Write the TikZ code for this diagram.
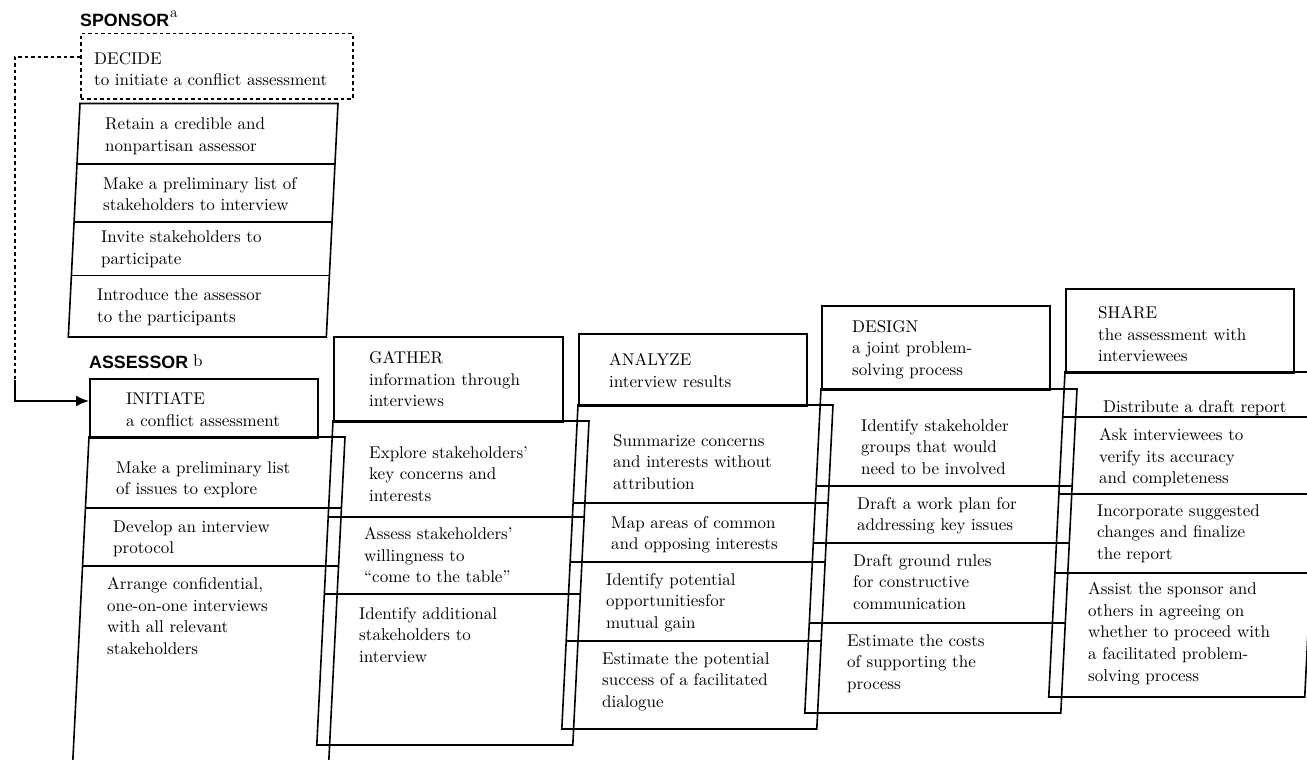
\documentclass[tikz,border=0pt]{standalone}
\usepackage{fontspec}
\setmainfont{lmroman10-regular.otf}
\newfontfamily\labfont{Liberation Sans}
\usetikzlibrary{arrows.meta}
\newcommand\PBody[4]{% x0, y0, width, height
  \draw[edge] (#1,#2) -- ({#1+#3},#2) -- ({#1+#3-0.05*#4},{#2+#4}) -- ({#1-0.05*#4},{#2+#4}) -- cycle;}
\newcommand\PDiv[4]{% x0, y0, width, y
  \draw[edge] ({#1-0.05*(#4-#2)},#4) -- ({#1+#3-0.05*(#4-#2)},#4);}
\begin{document}
\begin{tikzpicture}[x=1pt,y=-1pt,
  edge/.style={line width=1.6pt, line join=miter},
  hdr/.style={draw, line width=1.6pt, anchor=north west, inner sep=0pt},
  txt/.style={anchor=north west, inner sep=0pt, align=left,
    font=\fontsize{17}{21.8}\selectfont, execute at begin node=\strut},
  lab/.style={anchor=base west, inner sep=0pt,
    font=\labfont\bfseries\fontsize{17.8}{20}\selectfont},
  dsh/.style={line width=1.5pt, dash pattern=on 3.5pt off 3pt},
]
\useasboundingbox (0,0) rectangle (1307,760);
\clip (0,0) rectangle (1307,760);

% ---------------- SPONSOR ----------------
\node[lab] (sponsorL) at (80,27) {SPONSOR};
\node[anchor=base west, inner sep=0pt, font=\fontsize{15}{18}\selectfont] (supA) at (170,18) {a};
\node[hdr, dsh, minimum width=272pt, minimum height=65pt] (decide) at (80,33) {};
\node[txt] (decideT) at (94,52) {DECIDE\\to initiate a conflict assessment};

\PBody{80}{103.5}{258}{233.5}
\draw[edge] ({80-0.0515*(164-103.5)},164) -- ({338-0.0515*(164-103.5)},164);
\draw[edge] ({80-0.0515*(222-103.5)},222) -- ({338-0.0515*(222-103.5)},222);
\draw[edge] ({80-0.0515*(275.5-103.5)},275.5) -- ({338-0.0515*(275.5-103.5)},275.5);
\node[txt] (s1) at (105,118) {Retain a credible and\\nonpartisan assessor};
\node[txt] (s2) at (103,177) {Make a preliminary list of\\stakeholders to interview};
\node[txt] (s3) at (101,231) {Invite stakeholders to\\participate};
\node[txt] (s4) at (97,289) {Introduce the assessor\\to the participants};

% ---------------- ASSESSOR ----------------
\node[lab] (assessorL) at (89,368) {ASSESSOR};
\node[anchor=base west, inner sep=0pt, font=\fontsize{17}{20}\selectfont] (supB) at (193,366) {b};
\node[hdr, minimum width=228pt, minimum height=59pt] (initH) at (89,378) {};
\node[txt] (initT) at (126,392) {INITIATE\\a conflict assessment};
\PBody{89}{437}{256}{326}
\PDiv{89}{437}{256}{508}
\PDiv{89}{437}{256}{566}
\node[txt] (a1) at (116,461) {Make a preliminary list\\of issues to explore};
\node[txt] (a2) at (113,520) {Develop an interview\\protocol};
\node[txt] (a3) at (107,577) {Arrange confidential,\\one-on-one interviews\\with all relevant\\stakeholders};

% ---------------- GATHER ----------------
\node[hdr, minimum width=229pt, minimum height=85pt] (gatherH) at (333,336) {};
\node[txt] (gatherT) at (369,351) {GATHER\\information through\\interviews};
\PBody{333}{421}{256}{324}
\PDiv{333}{421}{256}{517}
\PDiv{333}{421}{256}{594}
\node[txt] (g1) at (369,446) {Explore stakeholders’\\key concerns and\\interests};
\node[txt] (g2) at (364,527) {Assess stakeholders’\\willingness to\\“come to the table”};
\node[txt] (g3) at (359,607) {Identify additional\\stakeholders to\\interview};

% ---------------- ANALYZE ----------------
\node[hdr, minimum width=228pt, minimum height=72pt] (analyzeH) at (578,333) {};
\node[txt] (analyzeT) at (609,353) {ANALYZE\\interview results};
\PBody{578}{405}{255}{324}
\PDiv{578}{405}{255}{503}
\PDiv{578}{405}{255}{562}
\PDiv{578}{405}{255}{641}
\node[txt] (n1) at (613,434) {Summarize concerns\\and interests without\\attribution};
\node[txt] (n2) at (611,516) {Map areas of common\\and opposing interests};
\node[txt] (n3) at (606,573) {Identify potential\\opportunitiesfor\\mutual gain};
\node[txt] (n4) at (602,652) {Estimate the potential\\success of a facilitated\\dialogue};

% ---------------- DESIGN ----------------
\node[hdr, minimum width=228pt, minimum height=84pt] (designH) at (821,305) {};
\node[txt] (designT) at (852,320) {DESIGN\\a joint problem-\\solving process};
\PBody{821}{389}{256}{324}
\PDiv{821}{389}{256}{486}
\PDiv{821}{389}{256}{543}
\PDiv{821}{389}{256}{623}
\node[txt] (d1) at (861,419) {Identify stakeholder\\groups that would\\need to be involved};
\node[txt] (d2) at (857,497) {Draft a work plan for\\addressing key issues};
\node[txt] (d3) at (853,554) {Draft ground rules\\for constructive\\communication};
\node[txt] (d4) at (847,634) {Estimate the costs\\of supporting the\\process};

% ---------------- SHARE ----------------
\node[hdr, minimum width=228pt, minimum height=84pt] (shareH) at (1065,288) {};
\node[txt] (shareT) at (1098,306) {SHARE\\the assessment with\\interviewees};
\PBody{1065}{372}{256}{325}
\PDiv{1065}{372}{256}{417}
\PDiv{1065}{372}{256}{494}
\PDiv{1065}{372}{256}{573}
\node[txt] (h1) at (1103,397) {Distribute a draft report};
\node[txt] (h2) at (1099,428) {Ask interviewees to\\verify its accuracy\\and completeness};
\node[txt] (h3) at (1097,504) {Incorporate suggested\\changes and finalize\\the report};
\node[txt] (h4) at (1088,582) {Assist the sponsor and\\others in agreeing on\\whether to proceed with\\a facilitated problem-\\solving process};

% ---------------- connector ----------------
\coordinate (c1) at (15,57);
\coordinate (c2) at (15,380);
\coordinate (c3) at (15,401);
\draw[dsh] (decide.west |- c1) -- (c1) -- (c2);
\draw[edge, -{Latex[length=13pt,width=11pt]}] (c2) -- (c3) -- (initH.west |- c3);
\end{tikzpicture}
\end{document}
